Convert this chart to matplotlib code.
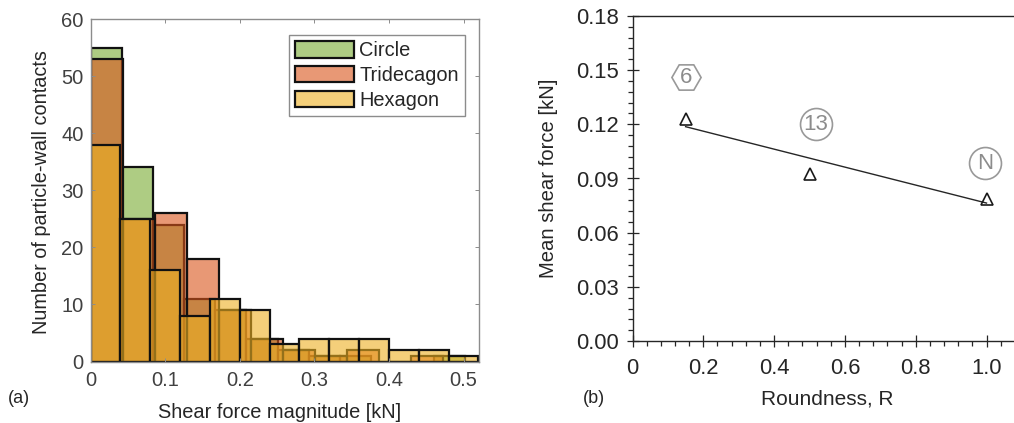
import matplotlib
matplotlib.use("Agg")
import matplotlib.pyplot as plt
from matplotlib.ticker import MultipleLocator
from matplotlib.patches import Patch

plt.rcParams['font.family'] = ['Liberation Sans', 'DejaVu Sans']

W, H = 1014, 423
GRAY = '#404040'
AXG = '#8c8c8c'

# ---- data ----
circle_counts = [55, 34, 24, 11, 9, 4, 2, 1, 1, 0, 0, 1]
tri_counts = [53, 25, 26, 18, 9, 4, 2, 1, 2, 0, 1, 0]
hex_counts = [38, 25, 16, 8, 11, 9, 3, 4, 4, 4, 2, 2, 1]
circle_width = 0.0418
tri_width = 0.043
hex_width = 0.04
series_names = ['Circle', 'Tridecagon', 'Hexagon']
series_colors = [(.47, .67, .19, .6), (.85, .33, .10, .6), (.93, .69, .13, .6)]

roundness = [0.15, 0.5, 1.0]
mean_shear = [0.123, 0.0925, 0.0785]
fit_x = [0.15, 1.0]
fit_y = [0.1187, 0.0764]
shape_labels = ['6', '13', 'N']
shape_x = [0.15, 0.517, 0.995]
shape_y = [0.146, 0.1200, 0.0985]
shape_markers = ['H', 'o', 'o']


def axes_px(l, t, r, b):
    return [l / W, 1 - b / H, (r - l) / W, (b - t) / H]


fig = plt.figure(figsize=(W / 100, H / 100), dpi=100)

# ---- (a) ----
ax = fig.add_axes(axes_px(90.5, 19, 478.5, 361.5))
for counts, width, color in zip([circle_counts, tri_counts, hex_counts],
                                [circle_width, tri_width, hex_width], series_colors):
    lefts = [i * width for i in range(len(counts))]
    ax.bar(lefts, counts, width=width, align='edge', facecolor=color,
           edgecolor='#111111', linewidth=1.6)
ax.set_xlim(0, 0.52)
ax.set_ylim(0, 60)
ax.yaxis.set_major_locator(MultipleLocator(10))
ax.set_xticks([0, 0.1, 0.2, 0.3, 0.4, 0.5])
ax.set_xticklabels(['0', '0.1', '0.2', '0.3', '0.4', '0.5'])
ax.tick_params(axis='both', which='major', direction='in', length=3.2, width=0.7,
               color=AXG, labelsize=14.5, labelcolor=GRAY, top=True, right=True)
ax.tick_params(axis='x', pad=7)
ax.tick_params(axis='y', pad=5)
for s in ax.spines.values():
    s.set_color(AXG)
    s.set_linewidth(1.0)
ax.set_xlabel('Shear force magnitude [kN]', fontsize=14.4, color='#262626')
ax.set_ylabel('Number of particle-wall contacts', fontsize=14.3, color='#262626')
ax.xaxis.set_label_coords(0.487, -41.5 / 342.5)
ax.yaxis.set_label_coords(-39.5 / 388, 0.496)
handles = [Patch(facecolor=c, edgecolor='#111111', linewidth=1.6, label=n)
           for c, n in zip(series_colors, series_names)]
leg = ax.legend(handles=handles, loc='upper left',
                bbox_to_anchor=((288.5 - 90.5) / 388, 1 - (114 - 19) / 342.5, (465 - 288.5) / 388, (114 - 35) / 342.5),
                mode='expand', borderaxespad=0, fontsize=14.4, fancybox=False, framealpha=1,
                edgecolor=AXG, handlelength=2.95, handleheight=0.9, handletextpad=0.3,
                labelspacing=0.28, borderpad=0.3, labelcolor='#262626')
leg.get_frame().set_linewidth(1.0)

# ---- (b) ----
ax2 = fig.add_axes(axes_px(632.5, 16, 1014, 341))
ax2.plot(fit_x, fit_y, color='#262626', lw=1.0, zorder=2)
ax2.plot(roundness, mean_shear, ls='none', marker='^', ms=9, mfc='none', mec='#1a1a1a', mew=1.2, zorder=3)
for lab, xv, yv, m in zip(shape_labels, shape_x, shape_y, shape_markers):
    ax2.plot([xv], [yv], marker=m, ms=23 if m == 'o' else 21, mfc='none', mec='#999999', mew=1.2, ls='none')
    ax2.text(xv, yv, lab, ha='center', va='center', fontsize=16, color='#8c8c8c')
ax2.set_xlim(0, 381.5 / 354)
ax2.set_ylim(0, 0.18)
ax2.set_xticks([0, 0.2, 0.4, 0.6, 0.8, 1.0])
ax2.set_xticklabels(['0', '0.2', '0.4', '0.6', '0.8', '1.0'])
ax2.xaxis.set_minor_locator(MultipleLocator(0.04))
ax2.set_yticks([0, .03, .06, .09, .12, .15, .18])
ax2.set_yticklabels(['0.00', '0.03', '0.06', '0.09', '0.12', '0.15', '0.18'])
ax2.yaxis.set_minor_locator(MultipleLocator(0.006))
ax2.tick_params(axis='both', which='major', direction='inout', length=8, width=0.9,
                color='#262626', labelsize=15.8, labelcolor='#262626')
ax2.tick_params(axis='x', which='major', pad=8)
ax2.tick_params(axis='y', which='major', pad=6)
ax2.tick_params(axis='both', which='minor', direction='out', length=3.5, width=0.9, color='#262626')
ax2.spines['right'].set_visible(False)
for k in ['top', 'left', 'bottom']:
    ax2.spines[k].set_color('#262626')
    ax2.spines[k].set_linewidth(1.0)
ax2.set_xlabel('Roundness, R', fontsize=15, color='#262626')
ax2.set_ylabel('Mean shear force [kN]', fontsize=14.6, color='#262626')
ax2.xaxis.set_label_coords(0.51, -48 / 325)
ax2.yaxis.set_label_coords(-74.5 / 381.5, 0.5)

fig.text(8 / W, 1 - 398 / H, '(a)', fontsize=13, color='#262626', va='center')
fig.text(583 / W, 1 - 398 / H, '(b)', fontsize=13, color='#262626', va='center')

fig.savefig('out.png', dpi=100)
